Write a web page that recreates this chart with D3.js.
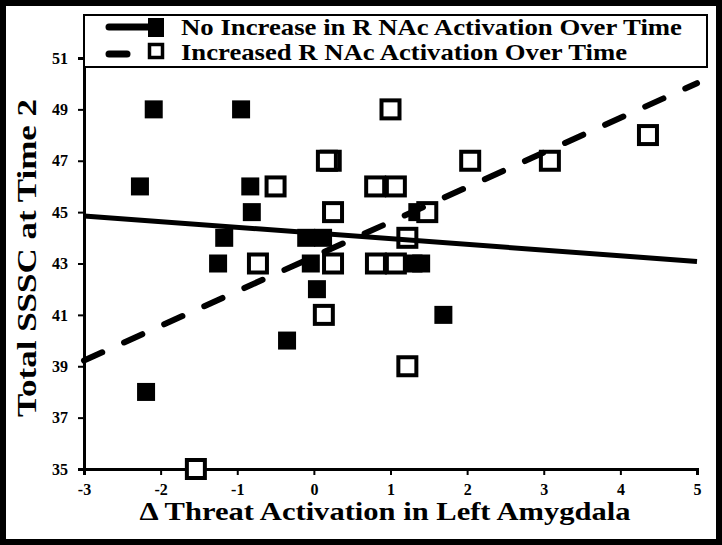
<!DOCTYPE html>
<html><head><meta charset="utf-8">
<script src="https://cdn.jsdelivr.net/npm/d3@7"></script>
<style>body{margin:0;background:#fff}svg{display:block}text{font-family:"Liberation Serif","Times New Roman",serif;font-weight:bold;fill:#000}</style>
</head><body><div id="chart"></div>
<script>
// Group 1: No increase in R NAc activation (filled squares)
const noIncX = [-2.09, -0.95, -2.27, -0.83, -0.81, 1.35, -1.17, -0.10, 0.12, -1.25, -0.04, 1.30, 1.40, 0.04, 1.69, -0.35, -2.19];
const noIncY = [49, 49, 46, 46, 45, 45, 44, 44, 44, 43, 43, 43, 43, 42, 41, 40, 38];
// Group 2: Increased R NAc activation (open squares)
const incX = [1.00, 0.22, 0.17, 2.04, 3.08, 4.36, -0.50, 0.80, 1.07, 0.25, 1.48, 1.22, -0.73, 0.25, 0.81, 1.07, 0.13, 1.22, -1.54];
const incY = [49, 47, 47, 47, 47, 48, 46, 46, 46, 45, 45, 44, 43, 43, 43, 43, 41, 39, 35];
// Fit lines (endpoints at x-domain limits)
const fitX = [-3, 5];
const noIncFitY = [44.85, 43.08];
const incFitY = [39.22, 50.02];
const xTicks = [-3, -2, -1, 0, 1, 2, 3, 4, 5];
const yTicks = [35, 37, 39, 41, 43, 45, 47, 49, 51];
const legendLabels = ["No Increase in R NAc Activation Over Time", "Increased R NAc Activation Over Time"];
const xTitle = "\u0394 Threat Activation in Left Amygdala";
const yTitle = "Total SSSC at Time 2";

const W = 722, H = 545;
const svg = d3.select("#chart").append("svg").attr("width", W).attr("height", H);
svg.append("rect").attr("width", W).attr("height", H).attr("fill", "#fff");

const x = d3.scaleLinear().domain([-3, 5]).range([84, 697]);
const y = d3.scaleLinear().domain([35, 51]).range([469, 58]);

// axes
const xAxis = svg.append("g").attr("transform", `translate(0,${y(35)})`)
  .call(d3.axisBottom(x).tickValues(xTicks).tickSize(6).tickPadding(9).tickFormat(d => String(d)));
const yAxis = svg.append("g").attr("transform", `translate(${x(-3)},0)`)
  .call(d3.axisLeft(y).tickValues(yTicks).tickSize(6).tickPadding(10).tickFormat(d => String(d)));
[xAxis, yAxis].forEach(g => {
  g.select(".domain").attr("stroke", "#000").attr("stroke-width", 3);
  g.selectAll(".tick line").attr("stroke", "#000").attr("stroke-width", 2);
  g.selectAll(".tick text").style("font-family", '"Liberation Serif",serif').style("font-weight", "bold").style("font-size", "16px").attr("fill", "#000");
});

const S = 18;
// filled squares
svg.append("g").selectAll("rect").data(noIncX.map((v, i) => [v, noIncY[i]])).join("rect")
  .attr("x", d => x(d[0]) - S / 2).attr("y", d => y(d[1]) - S / 2)
  .attr("width", S).attr("height", S).attr("fill", "#000");
// open squares
svg.append("g").selectAll("rect").data(incX.map((v, i) => [v, incY[i]])).join("rect")
  .attr("x", d => x(d[0]) - S / 2).attr("y", d => y(d[1]) - S / 2)
  .attr("width", S).attr("height", S).attr("fill", "#fff").attr("stroke", "#000").attr("stroke-width", 4);

// fit lines
const line = d3.line().x(d => x(d[0])).y(d => y(d[1]));
svg.append("path").datum(fitX.map((v, i) => [v, noIncFitY[i]])).attr("d", line)
  .attr("fill", "none").attr("stroke", "#000").attr("stroke-width", 5);
svg.append("path").datum(fitX.map((v, i) => [v, incFitY[i]])).attr("d", line)
  .attr("fill", "none").attr("stroke", "#000").attr("stroke-width", 6)
  .attr("stroke-linecap", "round").attr("stroke-dasharray", "20,24");

// legend
const lg = svg.append("g");
lg.append("rect").attr("x", 84).attr("y", 15).attr("width", 623).attr("height", 52)
  .attr("fill", "#fff").attr("stroke", "#000").attr("stroke-width", 2);
lg.append("line").attr("x1", 109).attr("x2", 150).attr("y1", 27).attr("y2", 27)
  .attr("stroke", "#000").attr("stroke-width", 7).attr("stroke-linecap", "round");
lg.append("rect").attr("x", 148).attr("y", 18).attr("width", 16).attr("height", 19).attr("fill", "#000");
lg.append("line").attr("x1", 109).attr("x2", 127).attr("y1", 54).attr("y2", 54)
  .attr("stroke", "#000").attr("stroke-width", 7).attr("stroke-linecap", "round");
lg.append("rect").attr("x", 149.5).attr("y", 44.5).attr("width", 13).attr("height", 13)
  .attr("fill", "#fff").attr("stroke", "#000").attr("stroke-width", 3.5);
lg.selectAll("text.lab").data(legendLabels).join("text").attr("class", "lab")
  .attr("x", 181).attr("y", (d, i) => 35 + i * 25).style("font-size", "23px")
  .attr("textLength", (d, i) => i === 0 ? 501 : 446).attr("lengthAdjust", "spacingAndGlyphs")
  .text(d => d);

// titles
svg.append("text").attr("x", 385).attr("y", 520).attr("text-anchor", "middle")
  .style("font-size", "25px").attr("textLength", 491).attr("lengthAdjust", "spacingAndGlyphs").text(xTitle);
svg.append("text").attr("transform", "translate(36,258) rotate(-90)").attr("text-anchor", "middle")
  .style("font-size", "27px").attr("textLength", 318).attr("lengthAdjust", "spacingAndGlyphs").text(yTitle);

// outer frame
svg.append("rect").attr("x", 0).attr("y", 0).attr("width", W).attr("height", H)
  .attr("fill", "none").attr("stroke", "#000").attr("stroke-width", 12);
</script></body></html>
